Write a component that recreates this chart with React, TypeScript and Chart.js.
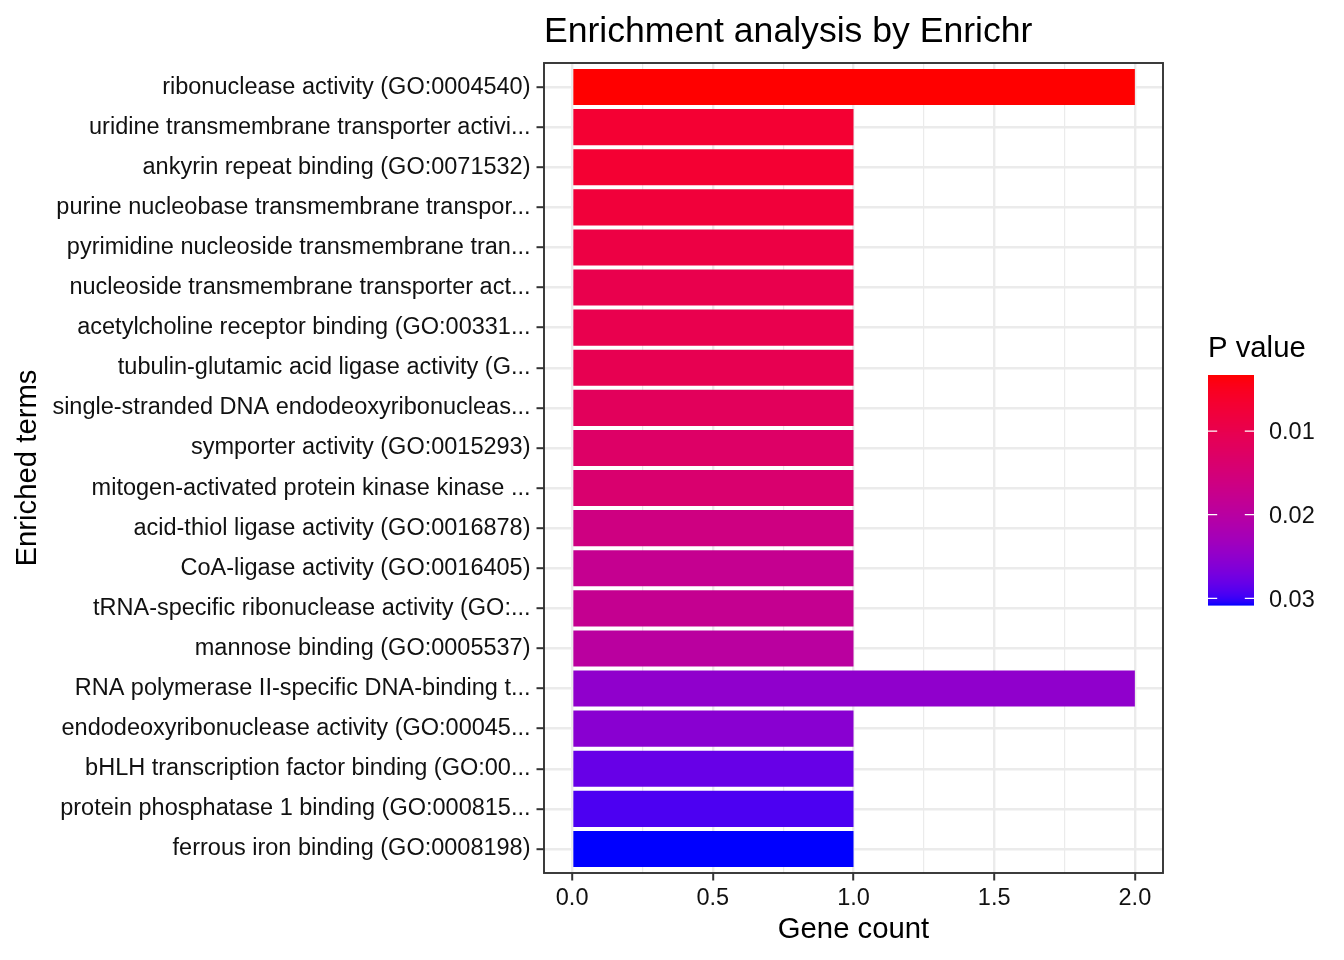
import React, { useEffect, useRef } from "react";
import { Chart, registerables } from "chart.js";

Chart.register(...registerables);

const terms = [
  "ribonuclease activity (GO:0004540)",
  "uridine transmembrane transporter activi...",
  "ankyrin repeat binding (GO:0071532)",
  "purine nucleobase transmembrane transpor...",
  "pyrimidine nucleoside transmembrane tran...",
  "nucleoside transmembrane transporter act...",
  "acetylcholine receptor binding (GO:00331...",
  "tubulin-glutamic acid ligase activity (G...",
  "single-stranded DNA endodeoxyribonucleas...",
  "symporter activity (GO:0015293)",
  "mitogen-activated protein kinase kinase ...",
  "acid-thiol ligase activity (GO:0016878)",
  "CoA-ligase activity (GO:0016405)",
  "tRNA-specific ribonuclease activity (GO:...",
  "mannose binding (GO:0005537)",
  "RNA polymerase II-specific DNA-binding t...",
  "endodeoxyribonuclease activity (GO:00045...",
  "bHLH transcription factor binding (GO:00...",
  "protein phosphatase 1 binding (GO:000815...",
  "ferrous iron binding (GO:0008198)",
];

const geneCounts = [2, 1, 1, 1, 1, 1, 1, 1, 1, 1, 1, 1, 1, 1, 1, 2, 1, 1, 1, 1];

const pValues = [
  0.0033, 0.0069, 0.0069, 0.0077, 0.0088, 0.0099, 0.01, 0.0103, 0.0116, 0.0129,
  0.0138, 0.0162, 0.0179, 0.018, 0.0198, 0.025, 0.0256, 0.0281, 0.0294, 0.0308,
];

const xMajorTicks = [0, 0.5, 1, 1.5, 2];
const xMinorTicks = [0.25, 0.75, 1.25, 1.75];
const legendTicks = [0.01, 0.02, 0.03];

const LOW_COLOR = [255, 0, 0];
const HIGH_COLOR = [0, 0, 255];

const FONT = "'Liberation Sans', Arial, Helvetica, sans-serif";

// --- Lab colour interpolation (like ggplot's scale_fill_gradient) ---
const Xn = 0.95047, Yn = 1.0, Zn = 1.08883;
function toLin(c: number) {
  c /= 255;
  return c <= 0.04045 ? c / 12.92 : Math.pow((c + 0.055) / 1.055, 2.4);
}
function toSrgb(c: number) {
  c = Math.max(0, Math.min(1, c));
  const v = c <= 0.0031308 ? 12.92 * c : 1.055 * Math.pow(c, 1 / 2.4) - 0.055;
  return Math.round(v * 255);
}
function f(t: number) {
  return t > 216 / 24389 ? Math.cbrt(t) : (24389 / 27 * t + 16) / 116;
}
function finv(t: number) {
  return t > 6 / 29 ? t * t * t : (116 * t - 16) / (24389 / 27);
}
function rgbToLab(rgb: number[]) {
  const r = toLin(rgb[0]), g = toLin(rgb[1]), b = toLin(rgb[2]);
  const X = 0.4124 * r + 0.3576 * g + 0.1805 * b;
  const Y = 0.2126 * r + 0.7152 * g + 0.0722 * b;
  const Z = 0.0193 * r + 0.1192 * g + 0.9505 * b;
  const fx = f(X / Xn), fy = f(Y / Yn), fz = f(Z / Zn);
  return [116 * fy - 16, 500 * (fx - fy), 200 * (fy - fz)];
}
function labToRgb(lab: number[]) {
  const fy = (lab[0] + 16) / 116;
  const fx = fy + lab[1] / 500;
  const fz = fy - lab[2] / 200;
  const X = Xn * finv(fx), Y = Yn * finv(fy), Z = Zn * finv(fz);
  const r = 3.2406 * X - 1.5372 * Y - 0.4986 * Z;
  const g = -0.9689 * X + 1.8758 * Y + 0.0415 * Z;
  const b = 0.0557 * X - 0.204 * Y + 1.057 * Z;
  return [toSrgb(r), toSrgb(g), toSrgb(b)];
}
const labLow = rgbToLab(LOW_COLOR);
const labHigh = rgbToLab(HIGH_COLOR);
const pMin = Math.min(...pValues);
const pMax = Math.max(...pValues);
function pToColor(p: number) {
  const t = Math.max(0, Math.min(1, (p - pMin) / (pMax - pMin)));
  const lab = [0, 1, 2].map((i) => labLow[i] + (labHigh[i] - labLow[i]) * t);
  const c = labToRgb(lab);
  return `rgb(${c[0]},${c[1]},${c[2]})`;
}

// layout constants
const PANEL = { left: 544, right: 1163, top: 63, bottom: 873 };
const BAR = { left: 1208, right: 1254, top: 375, bottom: 605 };

const decorPlugin = {
  id: "decor",
  afterDatasetsDraw(chart: any) {
    const { ctx, chartArea } = chart;
    ctx.save();
    ctx.strokeStyle = "#333333";
    ctx.lineWidth = 1.9;
    ctx.strokeRect(chartArea.left, chartArea.top, chartArea.right - chartArea.left, chartArea.bottom - chartArea.top);
    ctx.restore();
  },
  afterDraw(chart: any) {
    const { ctx, chartArea } = chart;
    ctx.save();
    ctx.fillStyle = "#000000";
    // title
    ctx.font = `35.6px ${FONT}`;
    ctx.textAlign = "left";
    ctx.textBaseline = "alphabetic";
    ctx.fillText("Enrichment analysis by Enrichr", chartArea.left, 41.5);
    // x title
    ctx.font = `29.3px ${FONT}`;
    ctx.textAlign = "center";
    ctx.fillText("Gene count", (chartArea.left + chartArea.right) / 2, 938);
    // y title
    ctx.save();
    ctx.translate(36, (chartArea.top + chartArea.bottom) / 2);
    ctx.rotate(-Math.PI / 2);
    ctx.fillText("Enriched terms", 0, 0);
    ctx.restore();
    // legend title
    ctx.textAlign = "left";
    ctx.fillText("P value", BAR.left, 357);
    // colour bar
    const h = BAR.bottom - BAR.top;
    const n = 230;
    for (let i = 0; i < n; i++) {
      const p = pMin + ((i + 0.5) / n) * (pMax - pMin);
      ctx.fillStyle = pToColor(p);
      ctx.fillRect(BAR.left, BAR.top + (i * h) / n, BAR.right - BAR.left, h / n + 0.6);
    }
    const w = BAR.right - BAR.left;
    ctx.strokeStyle = "#ffffff";
    ctx.lineWidth = 1.2;
    ctx.font = `23.5px ${FONT}`;
    ctx.fillStyle = "#111111";
    for (const t of legendTicks) {
      const y = BAR.top + ((t - pMin) / (pMax - pMin)) * h;
      ctx.beginPath();
      ctx.moveTo(BAR.left, y);
      ctx.lineTo(BAR.left + w / 5, y);
      ctx.moveTo(BAR.right - w / 5, y);
      ctx.lineTo(BAR.right, y);
      ctx.stroke();
      ctx.fillText(t.toFixed(2), 1269, y + 8.4);
    }
    ctx.restore();
  },
};

export default function App() {
  const ref = useRef<HTMLCanvasElement | null>(null);
  useEffect(() => {
    if (!ref.current) return;
    const chart = new Chart(ref.current, {
      type: "bar",
      data: {
        datasets: [
          {
            data: geneCounts.map((c, i) => ({ x: c, y: i })),
            backgroundColor: pValues.map(pToColor),
            borderWidth: 0,
            barPercentage: 0.9,
            categoryPercentage: 1,
          },
        ],
      },
      options: {
        indexAxis: "y",
        animation: false,
        responsive: false,
        devicePixelRatio: 1,
        layout: { padding: { top: PANEL.top, right: 1344 - PANEL.right, bottom: 0, left: 0 } },
        plugins: { legend: { display: false }, tooltip: { enabled: false }, title: { display: false } },
        scales: {
          x: {
            type: "linear",
            min: -0.1,
            max: 2.1,
            afterBuildTicks: (scale: any) => {
              scale.ticks = [...xMajorTicks, ...xMinorTicks].sort((a, b) => a - b).map((v) => ({ value: v }));
            },
            afterFit: (scale: any) => {
              scale.height = 960 - PANEL.bottom;
            },
            border: { display: false },
            grid: {
              color: "#EBEBEB",
              lineWidth: (c: any) => (xMajorTicks.includes(c.tick?.value) ? 2.4 : 1.2),
              tickColor: (c: any) => (xMajorTicks.includes(c.tick?.value) ? "#333333" : "rgba(0,0,0,0)"),
              tickLength: 7.5,
              tickWidth: 2,
            },
            ticks: {
              autoSkip: false,
              maxRotation: 0,
              padding: 4,
              color: "#111111",
              font: { family: FONT, size: 23.5 },
              callback: (v: any) => (xMajorTicks.includes(Number(v)) ? Number(v).toFixed(1) : ""),
            },
          },
          y: {
            type: "linear",
            offset: false,
            min: -0.6,
            max: terms.length - 1 + 0.6,
            reverse: true,
            afterBuildTicks: (scale: any) => {
              scale.ticks = terms.map((_, i) => ({ value: i }));
            },
            afterFit: (scale: any) => {
              scale.width = PANEL.left;
            },
            border: { display: false },
            grid: {
              offset: false,
              color: "#EBEBEB",
              lineWidth: 2.4,
              tickColor: "#333333",
              tickLength: 7.5,
              tickWidth: 2,
            },
            ticks: {
              autoSkip: false,
              padding: 6,
              color: "#111111",
              font: { family: FONT, size: 23.5 },
              callback: (v: any) => terms[Number(v)] ?? "",
            },
          },
        },
      },
      plugins: [decorPlugin],
    } as any);
    return () => chart.destroy();
  }, []);
  return (
    <div style={{ position: "fixed", left: 0, top: 0, width: 1344, height: 960, background: "#fff" }}>
      <canvas ref={ref} width={1344} height={960} style={{ width: 1344, height: 960, display: "block" }} />
    </div>
  );
}
